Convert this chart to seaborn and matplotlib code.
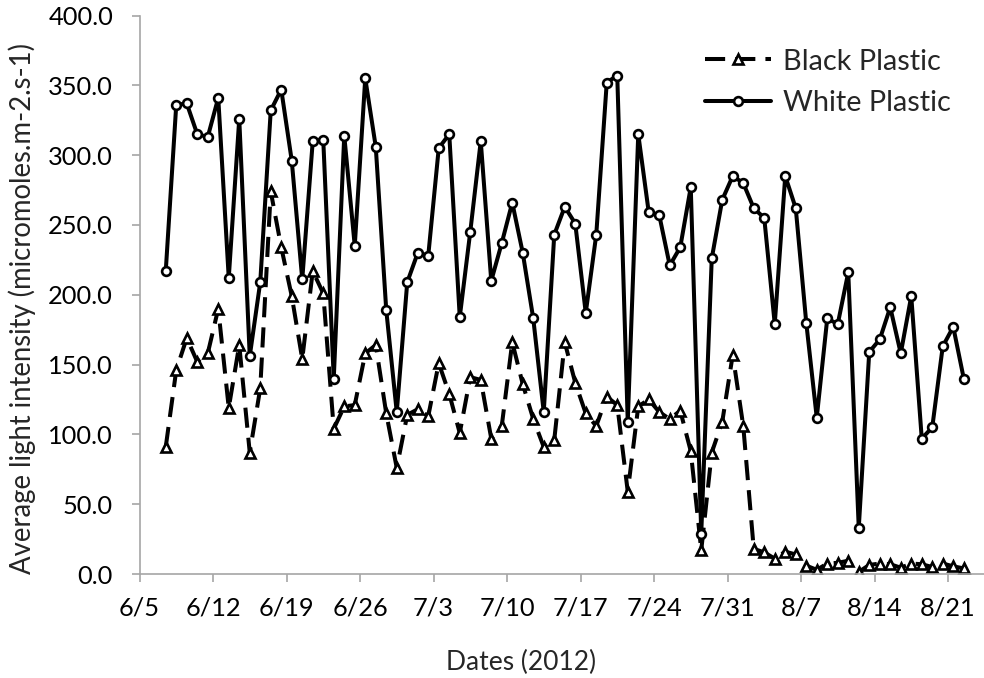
import pandas as pd
import matplotlib
matplotlib.use('Agg')
import matplotlib.pyplot as plt
import matplotlib.dates as mdates
from matplotlib.ticker import FuncFormatter, MultipleLocator
import seaborn as sns

# Dates of the readings (daily, 2012)
dates = pd.date_range('2012-06-07', '2012-08-22', freq='D')

black_plastic = [
    # June 7 - 30
    91, 146, 169, 152, 158, 190, 119, 164, 87, 133, 274, 234, 199, 154, 217, 201,
    104, 120, 121, 158, 164, 115, 76, 114,
    # July
    118, 113, 151, 129, 101, 141, 139, 97, 106, 166, 136, 111, 91, 96, 166, 137,
    115, 106, 127, 121, 59, 120, 125, 116, 111, 117, 88, 17, 87, 109, 157,
    # August 1 - 22
    106, 18, 15.5, 11, 16, 14, 6, 3, 7.5, 8, 9.5, 1.5, 6.5, 7.5, 7, 4.5, 7.5, 7,
    5, 7.5, 5.5, 4,
]

white_plastic = [
    # June 7 - 30
    217, 336, 337, 315, 313, 341, 212, 326, 156, 209, 332, 347, 296, 211, 310, 311,
    140, 314, 235, 355, 306, 189, 116, 209,
    # July
    230, 228, 305, 315, 184, 245, 310, 210, 237, 266, 230, 183, 116, 243, 263, 251,
    187, 243, 352, 357, 109, 315, 259, 257, 221, 234, 277, 29, 226, 268, 285,
    # August 1 - 22
    280, 262, 255, 179, 285, 262, 180, 112, 183, 179, 216, 33, 159, 168, 191, 158,
    199, 97, 105, 163, 177, 140,
]

tick_dates = pd.date_range('2012-06-05', '2012-08-21', freq='7D')

sns.set_style('ticks')
plt.rcParams['font.family'] = ['Lato', 'DejaVu Sans']

df = pd.DataFrame({'Data': dates, 'Black': black_plastic, 'White': white_plastic})
# Excel draws each day in the middle of its slot
df['x'] = df['Data'] + pd.Timedelta(hours=12)

fig = plt.figure(figsize=(9.84, 6.78), dpi=100)
ax = fig.add_axes([139.5 / 984, 104 / 678, 81 * 10.5 / 984, 558.5 / 678])

sns.lineplot(data=df, x='x', y='Black', ax=ax, color='black', lw=2.9,
             linestyle=(0, (5, 2.5)), marker='^', markersize=6.5,
             markerfacecolor='white', markeredgecolor='black', markeredgewidth=1.9,
             label='Black Plastic')
sns.lineplot(data=df, x='x', y='White', ax=ax, color='black', lw=2.9,
             marker='o', markersize=6.3,
             markerfacecolor='white', markeredgecolor='black', markeredgewidth=1.9,
             label='White Plastic')

ax.set_xlim(pd.Timestamp('2012-06-05'), pd.Timestamp('2012-08-25'))
ax.set_ylim(0, 400)
ax.set_xticks(tick_dates)
ax.xaxis.set_major_formatter(FuncFormatter(
    lambda v, p: f'{mdates.num2date(v).month}/{mdates.num2date(v).day}'))
ax.yaxis.set_major_locator(MultipleLocator(50))
ax.yaxis.set_major_formatter(FuncFormatter(lambda v, p: f'{v:.1f}'))

grey = '#A6A6A6'
for s in ['top', 'right']:
    ax.spines[s].set_visible(False)
for s in ['left', 'bottom']:
    ax.spines[s].set_color(grey)
    ax.spines[s].set_linewidth(1.2)
ax.tick_params(axis='both', direction='out', length=6, width=1.2, color=grey,
               labelsize=18.3, labelcolor='black')
ax.tick_params(axis='x', pad=10)
ax.tick_params(axis='y', pad=13)

ax.set_xlabel('Dates (2012)', fontsize=19)
ax.set_ylabel('Average light intensity (micromoles.m-2.s-1)', fontsize=19.8)
ax.xaxis.set_label_coords((521 - 139.5) / 850.5, -(662 - 574) / 558.5)
ax.yaxis.set_label_coords(-(139.5 - 22) / 850.5, (574 - 308) / 558.5)
ax.xaxis.label.set_va('center')
ax.yaxis.label.set_va('center')

ax.legend(loc='center left', bbox_to_anchor=(705 / 984, 1 - 82.5 / 678),
          bbox_transform=fig.transFigure, frameon=False, fontsize=20.8,
          handlelength=2.3, handletextpad=0.4, labelspacing=0.55,
          borderpad=0, borderaxespad=0)

fig.savefig('out.png', dpi=100)
